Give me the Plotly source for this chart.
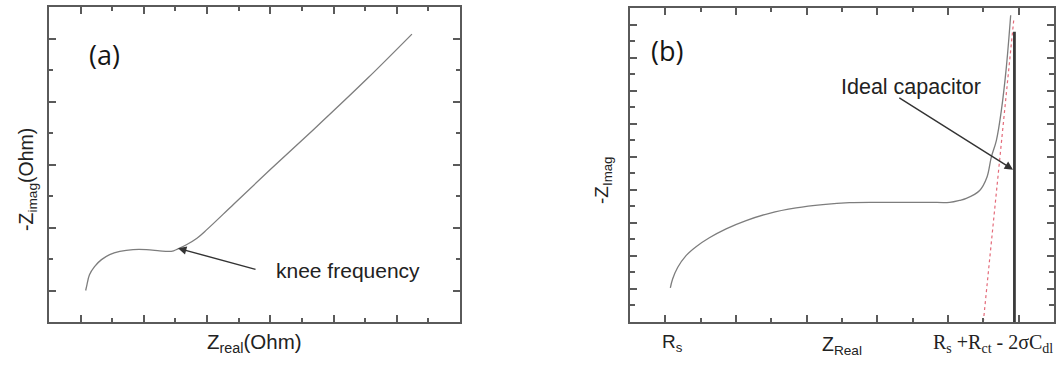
import plotly.graph_objects as go

# Panel (a): Nyquist plot with a knee frequency
z_real_a = [0.08, 0.10, 0.14, 0.22, 0.33, 0.46, 0.62, 0.83, 1.04, 1.25, 1.39, 1.47,
            1.54, 1.68, 1.84, 2.00, 2.42, 3.00, 3.69, 4.53, 5.24]
z_imag_a = [0.00, 0.09, 0.25, 0.38, 0.49, 0.57, 0.62, 0.65, 0.65, 0.63, 0.62, 0.63,
            0.66, 0.73, 0.83, 0.97, 1.37, 1.92, 2.56, 3.36, 4.07]

# Panel (b): semicircle-like arc followed by a steep capacitive tail
z_real_b = [0.071, 0.103, 0.174, 0.293, 0.435, 0.623, 0.860, 1.143, 1.473, 1.851,
            2.228, 2.606, 2.984, 3.361, 3.739, 4.023, 4.164, 4.259, 4.448, 4.551,
            4.613, 4.684, 4.755, 4.826, 4.887]
z_imag_b = [0.03, 0.30, 0.65, 1.01, 1.28, 1.55, 1.82, 2.07, 2.29, 2.45,
            2.55, 2.61, 2.62, 2.62, 2.62, 2.62, 2.68, 2.74, 2.98, 3.38,
            3.99, 4.49, 5.40, 6.72, 8.28]

# Dotted guide line and ideal-capacitor vertical line in panel (b)
guide_x = [4.50, 4.93]
guide_y = [-1.0, 8.13]
ideal_x = [4.94, 4.94]
ideal_y = [-1.0, 7.78]

W, H = 1062, 366
FRAME = "#5a5a5a"
CURVE = "#7d7d7d"
TEXT = "#222222"
SANS = "Liberation Sans, Arial, sans-serif"
SERIF = "Liberation Serif, Times New Roman, serif"

fig = go.Figure()
fig.add_trace(go.Scatter(x=z_real_a, y=z_imag_a, mode="lines", line_shape="spline",
                         line=dict(color=CURVE, width=1.3), xaxis="x", yaxis="y",
                         showlegend=False, hoverinfo="skip"))
fig.add_trace(go.Scatter(x=z_real_b, y=z_imag_b, mode="lines", line_shape="spline",
                         line=dict(color=CURVE, width=1.3), xaxis="x2", yaxis="y2",
                         showlegend=False, hoverinfo="skip"))
fig.add_trace(go.Scatter(x=guide_x, y=guide_y, mode="lines",
                         line=dict(color="#e46b7a", width=1.2, dash="dot"),
                         xaxis="x2", yaxis="y2", showlegend=False, hoverinfo="skip"))
fig.add_trace(go.Scatter(x=ideal_x, y=ideal_y, mode="lines",
                         line=dict(color="#3a3a3a", width=2.8),
                         xaxis="x2", yaxis="y2", showlegend=False, hoverinfo="skip"))


def axis(domain, rng, anchor, minor_len):
    # framed axis: long inward ticks on whole units, short ones on half units
    return dict(domain=domain, range=rng, anchor=anchor, showgrid=False, zeroline=False,
                showline=True, linecolor=FRAME, linewidth=2, mirror="allticks",
                ticks="inside", ticklen=7, tickwidth=1.6, tickcolor=FRAME,
                tickmode="linear", tick0=0, dtick=1, showticklabels=False,
                minor=dict(ticks="inside", ticklen=minor_len, tickwidth=1.6,
                           tickcolor=FRAME, tickmode="linear", tick0=0, dtick=0.5,
                           showgrid=False),
                fixedrange=True)


fig.update_layout(
    width=W, height=H, margin=dict(l=0, r=0, t=0, b=0),
    paper_bgcolor="white", plot_bgcolor="white",
    xaxis=axis([49 / W, 460 / W], [-0.5, 6.0], "y", 4),
    yaxis=axis([1 - 322 / H, 1 - 7 / H], [-0.5, 4.5], "x", 4),
    xaxis2=axis([630 / W, 1054 / W], [-0.5, 5.5], "y2", 4),
    yaxis2=axis([1 - 322 / H, 1 - 8 / H], [-1.0, 8.5], "x2", 5),
)

ann = []
# Panel labels
ann.append(dict(x=0.1, y=3.75, xref="x", yref="y", text="(a)", showarrow=False,
                xanchor="left", yanchor="middle",
                font=dict(family="Open Sans, sans-serif", size=27, color="#151515")))
ann.append(dict(x=-0.23, y=7.22, xref="x2", yref="y2", text="(b)", showarrow=False,
                xanchor="left", yanchor="middle",
                font=dict(family="Open Sans, sans-serif", size=27, color="#151515")))
# Knee frequency callout
ann.append(dict(x=1.54, y=0.67, xref="x", yref="y", ax=2.79, ay=0.33,
                axref="x", ayref="y", text="", showarrow=True, arrowhead=2,
                arrowsize=1.2, arrowwidth=1.4, arrowcolor="#333333"))
ann.append(dict(x=3.06, y=0.32, xref="x", yref="y", text="knee frequency",
                showarrow=False, xanchor="left", yanchor="middle",
                font=dict(family=SANS, size=21, color=TEXT)))
# Ideal capacitor callout
ann.append(dict(x=4.92, y=3.61, xref="x2", yref="y2", ax=3.29, ay=5.81,
                axref="x2", ayref="y2", text="", showarrow=True, arrowhead=2,
                arrowsize=1.2, arrowwidth=1.4, arrowcolor="#333333"))
ann.append(dict(x=2.46, y=6.1, xref="x2", yref="y2", text="Ideal capacitor",
                showarrow=False, xanchor="left", yanchor="middle",
                font=dict(family=SANS, size=21.5, color=TEXT)))
# Axis titles, panel (a)
ann.append(dict(x=27 / W, y=1 - 180 / H, xref="paper", yref="paper",
                text="-Z<sub>imag</sub>(Ohm)", textangle=-90, showarrow=False,
                xanchor="center", yanchor="middle",
                font=dict(family=SANS, size=19.5, color=TEXT)))
ann.append(dict(x=254 / W, y=1 - 343 / H, xref="paper", yref="paper",
                text="Z<sub>real</sub>(Ohm)", showarrow=False,
                xanchor="center", yanchor="middle",
                font=dict(family=SANS, size=20.5, color=TEXT)))
# Axis labels, panel (b)
ann.append(dict(x=603 / W, y=1 - 180 / H, xref="paper", yref="paper",
                text="-Z<sub>Imag</sub>", textangle=-90, showarrow=False,
                xanchor="center", yanchor="middle",
                font=dict(family=SANS, size=19, color=TEXT)))
ann.append(dict(x=0.1, y=1 - 343 / H, xref="x2", yref="paper",
                text="R<sub>s</sub>", showarrow=False,
                xanchor="center", yanchor="middle",
                font=dict(family=SANS, size=19, color=TEXT)))
ann.append(dict(x=2.5, y=1 - 345 / H, xref="x2", yref="paper",
                text="Z<sub>Real</sub>", showarrow=False,
                xanchor="center", yanchor="middle",
                font=dict(family=SANS, size=19.5, color=TEXT)))
ann.append(dict(x=4.63, y=1 - 343 / H, xref="x2", yref="paper",
                text="R<sub>s</sub> +R<sub>ct</sub> - 2\u03c3C<sub>dl</sub>", showarrow=False,
                xanchor="center", yanchor="middle",
                font=dict(family=SERIF, size=20, color=TEXT)))
fig.update_layout(annotations=ann)

fig.write_html("out.html")
